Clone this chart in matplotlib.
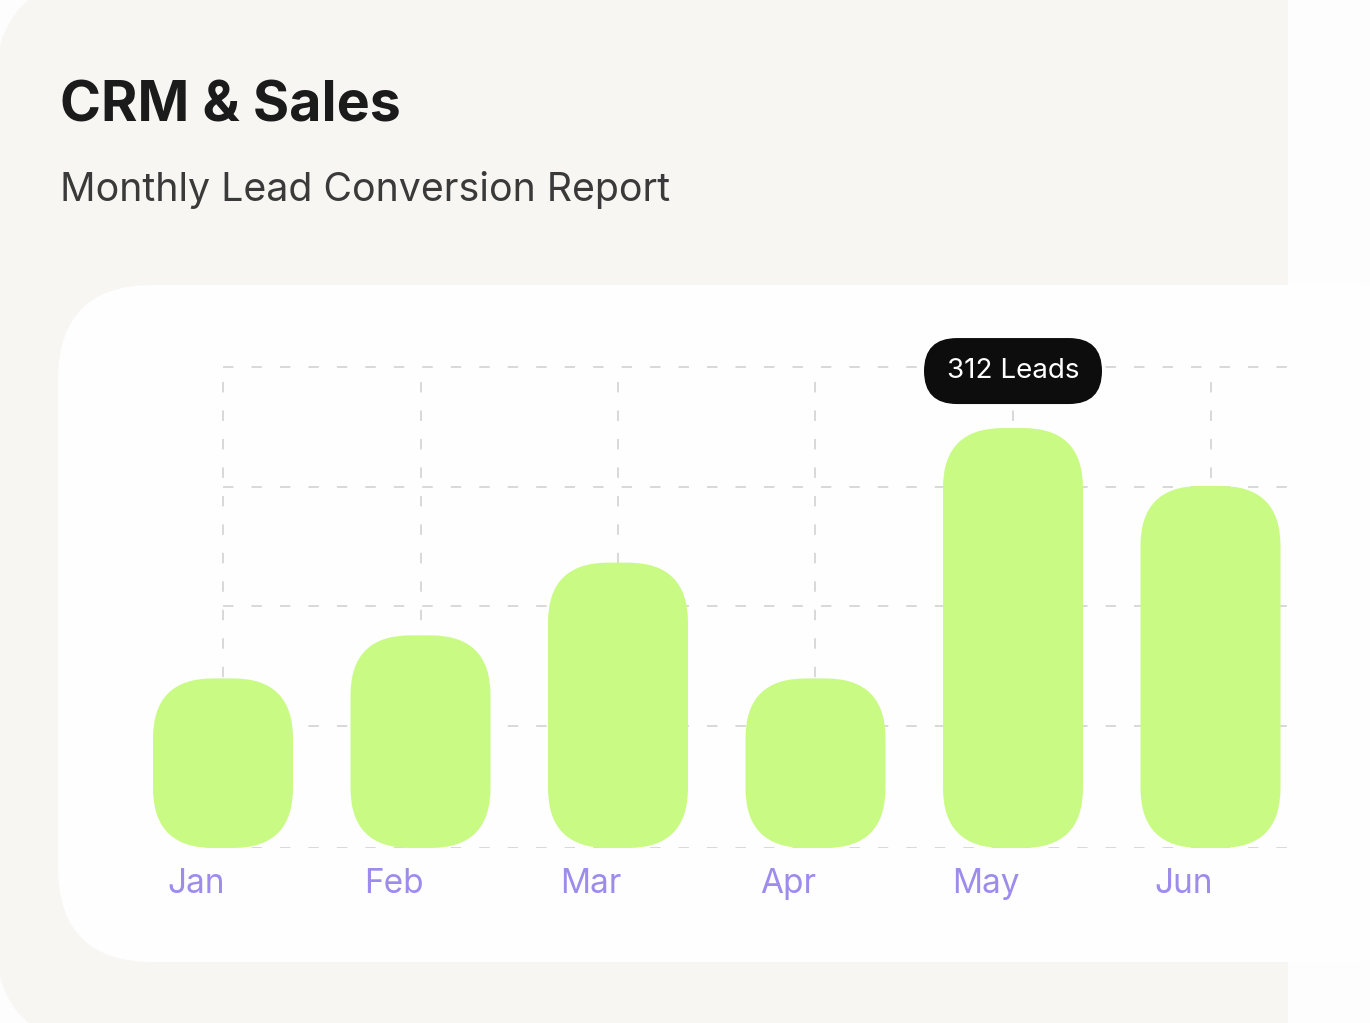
import matplotlib
matplotlib.use("Agg")
import matplotlib.pyplot as plt
from matplotlib.patches import FancyBboxPatch, Rectangle
from matplotlib.transforms import ScaledTranslation

plt.rcParams['font.family'] = ['Inter', 'DejaVu Sans']
plt.rcParams['lines.scale_dashes'] = False

# ---- data ----
months = ["Jan", "Feb", "Mar", "Apr", "May", "Jun"]
leads = [126, 158, 212, 126, 312, 269]
grid_levels = [0, 91, 180, 268, 357]
highlight_index = 4
title = "CRM & Sales"
subtitle = "Monthly Lead Conversion Report"

# ---- colours ----
outer_bg = "#fdfdfd"
card_gray = "#f7f6f3"
card_white = "#fefefe"
bar_color = "#c8fa84"
label_color = "#9d8cec"
grid_color = "#d6d6d6"
tip_color = "#0d0d0d"

W, H = 1370, 1023
fig = plt.figure(figsize=(W / 100, H / 100), dpi=100, facecolor=outer_bg)

# background decoration axes (pixel coordinates)
bg = fig.add_axes([0, 0, 1, 1])
bg.set_xlim(0, W)
bg.set_ylim(H, 0)
bg.axis('off')
bg.add_patch(FancyBboxPatch((-5, -22), 1500, 1067,
                            boxstyle="round,pad=0,rounding_size=110",
                            fc=card_gray, ec="none"))
bg.add_patch(Rectangle((1288, -10), 200, H + 20, fc=outer_bg, ec="none"))
bg.add_patch(FancyBboxPatch((58, 285), 1400, 677,
                            boxstyle="round,pad=0,rounding_size=95",
                            fc=card_white, ec="none"))
bg.text(60, 122, title, fontsize=40, fontweight='bold', color="#1b1b1b",
        va='baseline', ha='left')
bg.text(60, 201, subtitle, fontsize=28.3, color="#3a3a3a",
        va='baseline', ha='left')

# chart axes
left_px, right_px, top_px, bottom_px = 123, 1288, 330, 848
ax = fig.add_axes([left_px / W, 1 - bottom_px / H,
                   (right_px - left_px) / W, (bottom_px - top_px) / H])
ax.patch.set_alpha(0)
for s in ax.spines.values():
    s.set_visible(False)
ax.set_xticks([])
ax.set_yticks([])

px_per_x = 197.5
px_per_y = 1.346
x0_px = 223
ax.set_xlim((left_px - x0_px) / px_per_x, (right_px - x0_px) / px_per_x)
ax.set_ylim(0, (bottom_px - top_px) / px_per_y)
xmax = ax.get_xlim()[1]
aspect = px_per_x / px_per_y

positions = list(range(len(months)))

# grid
dash = (0, (7.5, 13))
ax.hlines(grid_levels, positions[0], xmax, colors=grid_color, linewidth=1.3,
          linestyles=[dash], zorder=1)
ax.vlines(positions, 0, grid_levels[-1], colors=grid_color, linewidth=1.3,
          linestyles=[dash], zorder=1)

# bars
bar_w = 140 / px_per_x
radius = 60 / px_per_x
for p, v in zip(positions, leads):
    ax.add_patch(FancyBboxPatch((p - bar_w / 2, 0), bar_w, v,
                                boxstyle=f"round,pad=0,rounding_size={radius}",
                                mutation_aspect=aspect,
                                fc=bar_color, ec="none", zorder=2))

# month labels
lab_off = ScaledTranslation(-27 / 100, -36 / 100, fig.dpi_scale_trans)
for p, m in zip(positions, months):
    ax.text(p, 0, m, transform=ax.transData + lab_off, ha='center', va='center',
            fontsize=24, color=label_color, clip_on=False)

# tooltip
tip_w = 178 / px_per_x
tip_h = 66 / px_per_y
tip_y = leads[highlight_index] + 57 / px_per_y
tx = positions[highlight_index]
ax.add_patch(FancyBboxPatch((tx - tip_w / 2, tip_y - tip_h / 2), tip_w, tip_h,
                            boxstyle=f"round,pad=0,rounding_size={33 / px_per_x}",
                            mutation_aspect=aspect, fc=tip_color, ec="none",
                            zorder=4, clip_on=False))
ax.text(tx, tip_y, f"{leads[highlight_index]} Leads", ha='center', va='center',
        fontsize=20, color="white", zorder=5, clip_on=False)

fig.savefig("out.png", dpi=100, facecolor=fig.get_facecolor())
